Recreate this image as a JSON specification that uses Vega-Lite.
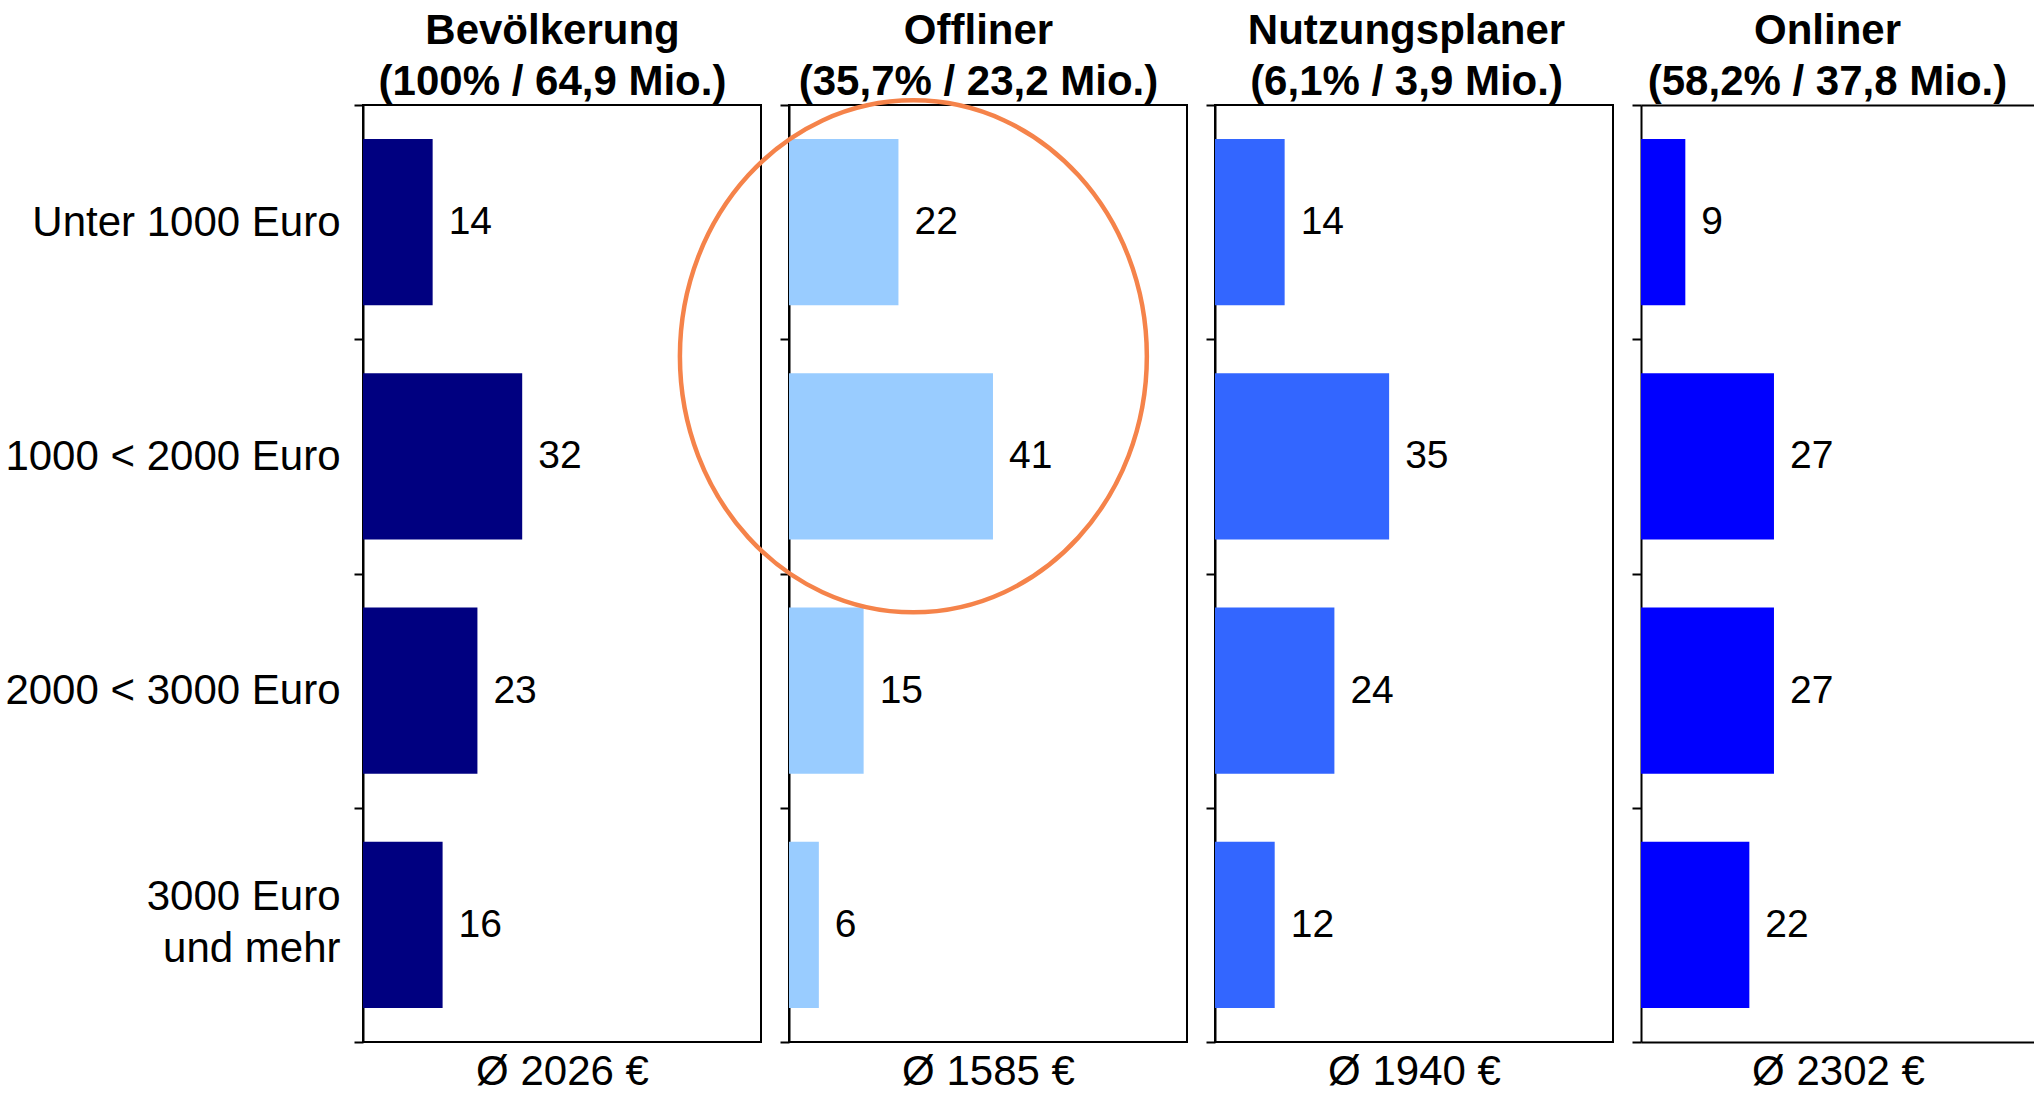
{
  "$schema": "https://vega.github.io/schema/vega-lite/v6.json",
  "background": "white",
  "padding": {"left": 3, "top": 8, "right": 0, "bottom": 0},
  "bounds": "flush",
  "spacing": 28,
  "datasets": {
    "income": [
      {"group": "Bevölkerung", "income": "Unter 1000 Euro", "value": 14},
      {"group": "Bevölkerung", "income": "1000 < 2000 Euro", "value": 32},
      {"group": "Bevölkerung", "income": "2000 < 3000 Euro", "value": 23},
      {"group": "Bevölkerung", "income": "3000 Euro und mehr", "value": 16},
      {"group": "Offliner", "income": "Unter 1000 Euro", "value": 22},
      {"group": "Offliner", "income": "1000 < 2000 Euro", "value": 41},
      {"group": "Offliner", "income": "2000 < 3000 Euro", "value": 15},
      {"group": "Offliner", "income": "3000 Euro und mehr", "value": 6},
      {"group": "Nutzungsplaner", "income": "Unter 1000 Euro", "value": 14},
      {"group": "Nutzungsplaner", "income": "1000 < 2000 Euro", "value": 35},
      {"group": "Nutzungsplaner", "income": "2000 < 3000 Euro", "value": 24},
      {"group": "Nutzungsplaner", "income": "3000 Euro und mehr", "value": 12},
      {"group": "Onliner", "income": "Unter 1000 Euro", "value": 9},
      {"group": "Onliner", "income": "1000 < 2000 Euro", "value": 27},
      {"group": "Onliner", "income": "2000 < 3000 Euro", "value": 27},
      {"group": "Onliner", "income": "3000 Euro und mehr", "value": 22}
    ]
  },
  "config": {
    "font": "Liberation Sans",
    "view": {"stroke": "black", "strokeWidth": 2},
    "axis": {"domainColor": "black", "domainWidth": 2, "tickColor": "black", "tickWidth": 2, "tickSize": 9, "grid": false, "labelColor": "black", "titleColor": "black", "labelFont": "Liberation Sans", "titleFont": "Liberation Sans"},
    "axisY": {"tickBand": "extent", "title": null, "labelFontSize": 42, "labelPadding": 14, "labelLimit": 0, "labelLineHeight": 52, "labelFontWeight": "normal"},
    "axisX": {"labels": false, "ticks": false, "domain": false, "titleFontSize": 42, "titleFontWeight": "normal", "titlePadding": 9},
    "axisTop": {"titleFontWeight": "bold", "titleLineHeight": 51, "titlePadding": 2, "titleFontSize": 42},
    "scale": {"bandPaddingInner": 0, "bandPaddingOuter": 0, "barBandPaddingInner": 0, "barBandPaddingOuter": 0}
  },
  "hconcat": [
    {
      "width": 398, "height": 937,
      "data": {"name": "income"},
      "transform": [{"filter": "datum.group == 'Bevölkerung'"}],
      "encoding": {
        "y": {"field": "income", "type": "nominal", "sort": null, "scale": {"paddingInner": 0, "paddingOuter": 0},
              "axis": {"labelExpr": "datum.value == '3000 Euro und mehr' ? ['3000 Euro', 'und mehr'] : datum.label",
                       "labelOffset": {"condition": {"test": "datum.value == '3000 Euro und mehr'", "value": -28}, "value": 0}}}
      },
      "layer": [
        {"mark": {"type": "bar", "color": "#000080", "height": {"band": 0.71}},
         "encoding": {"x": {"field": "value", "type": "quantitative", "scale": {"domain": [0, 80]}, "axis": {"title": "Ø 2026 €", "orient": "bottom"}}}},
        {"mark": {"type": "text", "align": "left", "baseline": "middle", "dx": 16, "fontSize": 39, "color": "black"},
         "encoding": {"text": {"field": "value"}, "x": {"field": "value", "type": "quantitative", "scale": {"domain": [0, 80]}, "axis": {"title": ["Bevölkerung", "(100% / 64,9 Mio.)"], "orient": "top", "titleX": 189}}}}
      ],
      "resolve": {"axis": {"x": "independent"}}
    },
    {
      "width": 398, "height": 937,
      "layer": [
        {"data": {"name": "income"},
         "transform": [{"filter": "datum.group == 'Offliner'"}],
         "mark": {"type": "bar", "color": "#99CCFF", "height": {"band": 0.71}},
         "encoding": {
           "y": {"field": "income", "type": "nominal", "sort": null, "scale": {"paddingInner": 0, "paddingOuter": 0}, "axis": {"labels": false}},
           "x": {"field": "value", "type": "quantitative", "scale": {"domain": [0, 80]}, "axis": {"title": "Ø 1585 €", "orient": "bottom"}}}},
        {"data": {"name": "income"},
         "transform": [{"filter": "datum.group == 'Offliner'"}],
         "mark": {"type": "text", "align": "left", "baseline": "middle", "dx": 16, "fontSize": 39, "color": "black"},
         "encoding": {
           "y": {"field": "income", "type": "nominal", "sort": null, "scale": {"paddingInner": 0, "paddingOuter": 0}, "axis": null},
           "text": {"field": "value"},
           "x": {"field": "value", "type": "quantitative", "scale": {"domain": [0, 80]}, "axis": {"title": ["Offliner", "(35,7% / 23,2 Mio.)"], "orient": "top", "titleX": 189}}}},
        {"data": {"values": [{"cx": 25.0, "cy": 1.073}]},
         "mark": {"type": "point", "shape": "M0,-1A0.912,1,0,1,1,0,1A0.912,1,0,1,1,0,-1Z", "size": 262144, "filled": false, "stroke": "#F5834A", "strokeWidth": 4.5, "opacity": 1},
         "encoding": {
           "x": {"field": "cx", "type": "quantitative", "scale": {"domain": [0, 80]}, "axis": null},
           "y": {"field": "cy", "type": "quantitative", "scale": {"domain": [0, 4], "reverse": true, "nice": false, "zero": false}, "axis": null}}}
      ],
      "resolve": {"scale": {"y": "independent"}, "axis": {"x": "independent", "y": "independent"}}
    },
    {
      "width": 398, "height": 937,
      "data": {"name": "income"},
      "transform": [{"filter": "datum.group == 'Nutzungsplaner'"}],
      "encoding": {
        "y": {"field": "income", "type": "nominal", "sort": null, "scale": {"paddingInner": 0, "paddingOuter": 0}, "axis": {"labels": false}}
      },
      "layer": [
        {"mark": {"type": "bar", "color": "#3366FF", "height": {"band": 0.71}},
         "encoding": {"x": {"field": "value", "type": "quantitative", "scale": {"domain": [0, 80]}, "axis": {"title": "Ø 1940 €", "orient": "bottom"}}}},
        {"mark": {"type": "text", "align": "left", "baseline": "middle", "dx": 16, "fontSize": 39, "color": "black"},
         "encoding": {"text": {"field": "value"}, "x": {"field": "value", "type": "quantitative", "scale": {"domain": [0, 80]}, "axis": {"title": ["Nutzungsplaner", "(6,1% / 3,9 Mio.)"], "orient": "top", "titleX": 191}}}}
      ],
      "resolve": {"axis": {"x": "independent"}}
    },
    {
      "width": 394, "height": 937,
      "view": {"stroke": null},
      "data": {"name": "income"},
      "transform": [{"filter": "datum.group == 'Onliner'"}],
      "encoding": {
        "y": {"field": "income", "type": "nominal", "sort": null, "scale": {"paddingInner": 0, "paddingOuter": 0}, "axis": {"labels": false}}
      },
      "layer": [
        {"mark": {"type": "bar", "color": "#0000FF", "height": {"band": 0.71}},
         "encoding": {"x": {"field": "value", "type": "quantitative", "scale": {"domain": [0, 80]}, "axis": {"title": "Ø 2302 €", "domain": true, "orient": "bottom"}}}},
        {"mark": {"type": "text", "align": "left", "baseline": "middle", "dx": 16, "fontSize": 39, "color": "black"},
         "encoding": {"text": {"field": "value"}, "x": {"field": "value", "type": "quantitative", "scale": {"domain": [0, 80]}, "axis": {"title": ["Onliner", "(58,2% / 37,8 Mio.)"], "domain": true, "orient": "top", "titleX": 186}}}}
      ],
      "resolve": {"axis": {"x": "independent"}}
    }
  ]
}
